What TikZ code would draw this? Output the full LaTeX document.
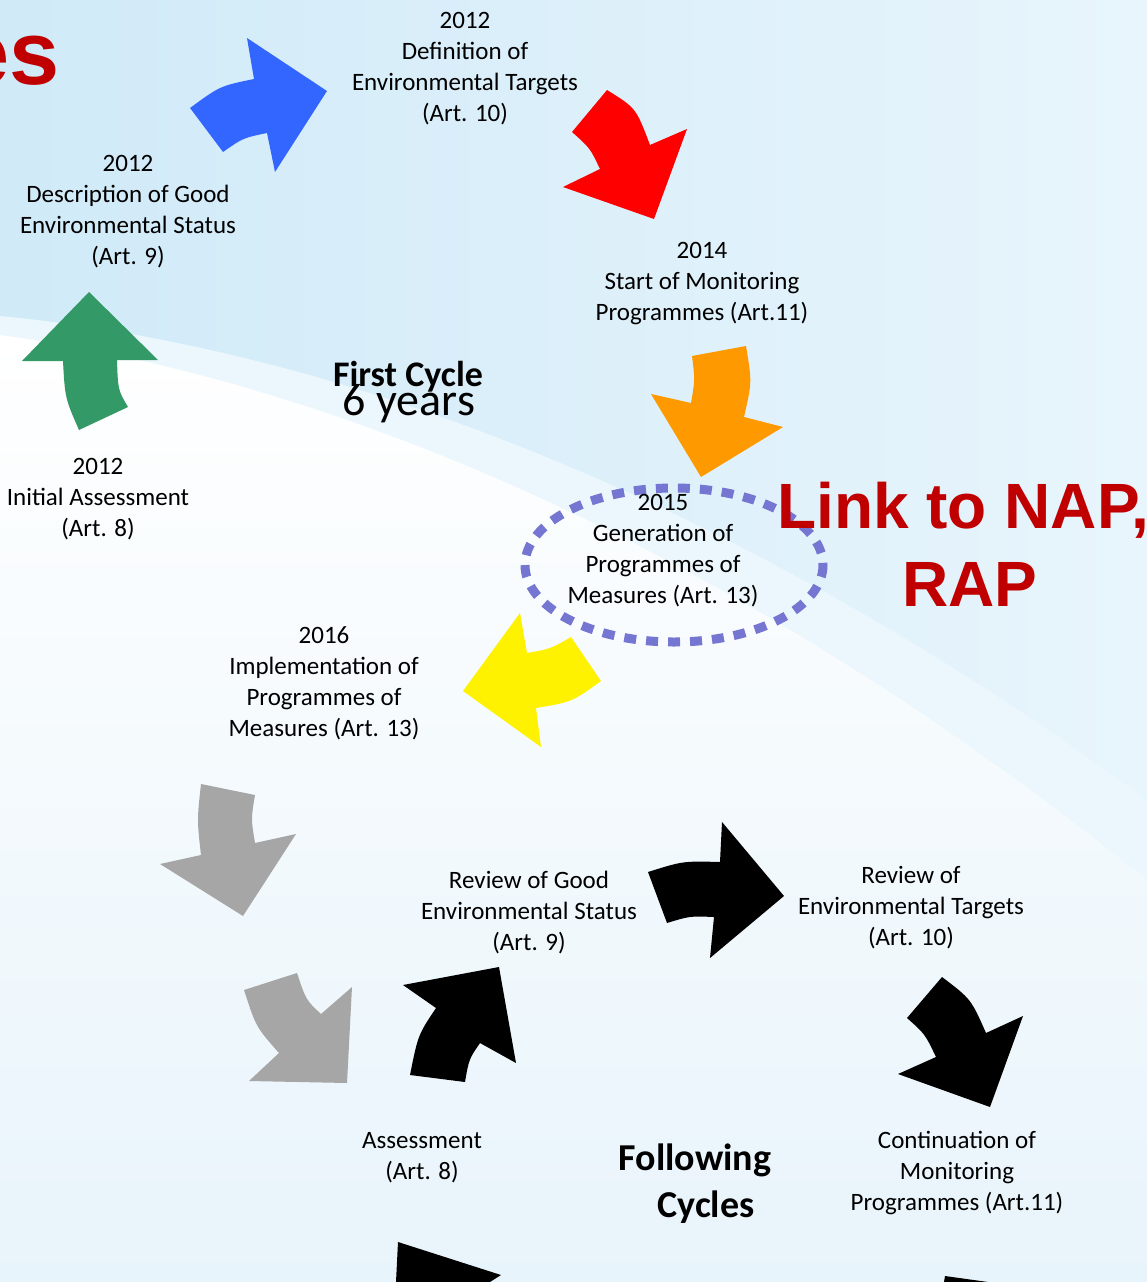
\documentclass[tikz,border=0pt]{standalone}
\usepackage{fontspec}
\setmainfont{Carlito}
\newfontfamily\arialfont{Liberation Sans}
\definecolor{bgdeep}{RGB}{208,234,248}
\definecolor{bglight}{RGB}{232,245,252}
\definecolor{bgband}{RGB}{236,247,253}
\definecolor{bgbottom}{RGB}{232,244,251}
\definecolor{arrblue}{RGB}{51,102,255}
\definecolor{arrgreen}{RGB}{51,153,102}
\definecolor{arrorange}{RGB}{255,153,0}
\definecolor{arrgray}{RGB}{166,166,166}
\definecolor{titlered}{RGB}{192,0,0}
\definecolor{ringblue}{RGB}{117,117,210}
\begin{document}
\begin{tikzpicture}[x=1pt,y=-1pt,
  lbl/.style={align=center,inner sep=0pt,font=\fontsize{25}{31}\selectfont},
  bigbold/.style={inner sep=0pt,font=\fontsize{36}{44}\selectfont\bfseries},
  redtxt/.style={inner sep=0pt,text=titlered,font=\arialfont\fontsize{64}{72}\selectfont\bfseries}]
\useasboundingbox (0,0) rectangle (1147,1282);
\clip (0,0) rectangle (1147,1282);
% background and swoosh
\fill[left color=bgdeep,right color=bglight] (0,0) rectangle (1147,1282);
\fill[bgband] (0,316) .. controls (400,355) and (800,545) .. (1147,800) -- (1147,1282) -- (0,1282) -- cycle;
\shade[top color=white,bottom color=bgbottom] (0,335) .. controls (400,390) and (800,600) .. (1147,880) -- (1147,1282) -- (0,1282) -- cycle;
% title remnant
\node[redtxt,font=\arialfont\fontsize{90}{96}\selectfont\bfseries,anchor=base east] (title) at (60,84) {es};
% first cycle arrows
\fill[arrblue] (190,108) -- (223,152) .. controls (243,138) .. (267,133) -- (275,172) -- (327,91) -- (247,38) -- (254,79) .. controls (220,86) .. (190,108) -- cycle;
\fill[red] (572,132) -- (607,90) .. controls (636,108) .. (650,145) -- (687,129) -- (654,219) -- (563,187) -- (600,169) .. controls (590,148) .. (572,132) -- cycle;
\fill[arrorange] (692,356) -- (746,346) .. controls (752,382) .. (744,417) -- (783,427) -- (701,477) -- (651,394) -- (691,403) .. controls (695,380) .. (692,356) -- cycle;
\fill[yellow] (571,637) -- (601,681) .. controls (572,702) .. (536,708) -- (541,747) -- (463,691) -- (520,613) -- (527,653) .. controls (550,649) .. (571,637) -- cycle;
\fill[arrgreen] (89,292) -- (158,360) -- (117,360) .. controls (118,390) .. (128,407) -- (79,430) .. controls (65,398) .. (63,361) -- (22,361) -- cycle;
% following cycles arrows
\fill[arrgray] (201,784) -- (255,795) .. controls (251,819) .. (255,843) -- (296,834) -- (243,916) -- (160,864) -- (201,855) .. controls (197,820) .. (201,784) -- cycle;
\fill[arrgray] (244,990) -- (297,973) .. controls (306,1000) .. (321,1014) -- (352,987) -- (347,1083) -- (249,1081) -- (279,1053) .. controls (256,1027) .. (244,990) -- cycle;
\fill[black] (410,1075) .. controls (418,1035) .. (436,1008) -- (403,985) -- (499,967) -- (516,1063) -- (480,1043) .. controls (469,1059) .. (465,1082) -- cycle;
\fill[black] (648,872) .. controls (683,861) .. (720,862) -- (722,822) -- (784,896) -- (710,958) -- (714,917) .. controls (690,916) .. (667,923) -- cycle;
\fill[black] (907,1018) -- (942,977) .. controls (971,999) .. (986,1033) -- (1023,1016) -- (990,1107) -- (898,1074) -- (936,1057) .. controls (925,1034) .. (907,1018) -- cycle;
\fill[black] (398,1242) -- (501,1275) -- (490,1282) -- (396,1282) -- cycle;
\fill[black] (945,1276) -- (988,1282) -- (944,1282) -- cycle;
% dashed ring round 2015
\draw[ringblue,line width=9pt,dash pattern=on 12pt off 10pt] (674,565) ellipse [x radius=149,y radius=77];
% labels
\node[lbl] (deftgt) at (465,69) {2012\\Definition of\\Environmental Targets\\(Art. 10)};
\node[lbl] (descges) at (128,212) {2012\\Description of Good\\Environmental Status\\(Art. 9)};
\node[lbl] (startmon) at (702,284) {2014\\Start of Monitoring\\Programmes (Art.11)};
\node[lbl] (initass) at (98,499) {2012\\Initial Assessment\\(Art. 8)};
\node[lbl] (genpom) at (663,551) {2015\\Generation of\\Programmes of\\Measures (Art. 13)};
\node[lbl] (implpom) at (324,683) {2016\\Implementation of\\Programmes of\\Measures (Art. 13)};
\node[lbl] (revges) at (529,913) {Review of Good\\Environmental Status\\(Art. 9)};
\node[lbl] (revtgt) at (911,908) {Review of\\Environmental Targets\\(Art. 10)};
\node[lbl] (assess) at (422,1158) {Assessment\\(Art. 8)};
\node[lbl] (contmon) at (957,1173) {Continuation of\\Monitoring\\Programmes (Art.11)};
\node[bigbold] (firstcyc) at (408,377) {First Cycle};
\node[inner sep=0pt,font=\fontsize{46}{52}\selectfont] (sixyrs) at (409,404) {6 years};
\node[bigbold,font=\fontsize{38}{46}\selectfont\bfseries] (follow) at (695,1160) {Following};
\node[bigbold,font=\fontsize{38}{46}\selectfont\bfseries] (cycles) at (706,1207) {Cycles};
\node[redtxt,anchor=west] (linknap) at (777,510) {Link to NAP,};
\node[redtxt] (rap) at (970,584) {RAP};
\end{tikzpicture}
\end{document}
